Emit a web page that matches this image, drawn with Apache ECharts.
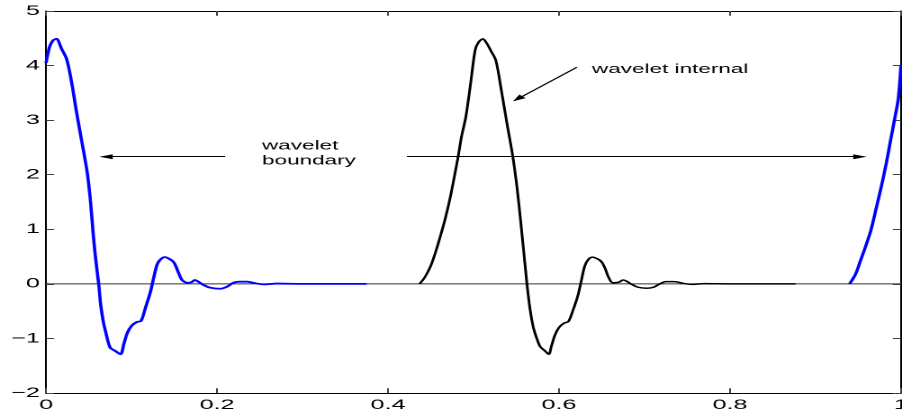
<!DOCTYPE html>
<html>
<head>
<meta charset="utf-8">
<script src="https://cdn.jsdelivr.net/npm/echarts@6/dist/echarts.min.js"></script>
<style>
html, body { margin: 0; padding: 0; background: #fff; overflow: hidden; width: 902px; height: 419px; }
/* 原图是横向拉伸过的 MATLAB 图：先按 501px 宽绘制，再整体横向放大 */
#chart { display: block; width: 501px; height: 419px; transform: scaleX(1.8004); transform-origin: 0 0; }
</style>
</head>
<body>
<div id="chart"></div>
<script>
// 刻度
const xTicks = [0, 0.2, 0.4, 0.6, 0.8, 1]
const yTicks = [-2, -1, 0, 1, 2, 3, 4, 5]

// 边界小波（蓝色），在 x = 1 处折回
const boundaryLeft = [
	[0, 4.05], [0.004, 4.34], [0.008, 4.46], [0.012, 4.49], [0.018, 4.31], [0.024, 4.12],
	[0.030, 3.68], [0.035, 3.2], [0.040, 2.76], [0.048, 2.05], [0.052, 1.5], [0.055, 0.93],
	[0.058, 0.45], [0.0615, 0], [0.064, -0.4], [0.067, -0.7], [0.070, -0.9], [0.075, -1.17],
	[0.081, -1.23], [0.087, -1.29], [0.091, -1.1], [0.095, -0.9], [0.100, -0.77], [0.106, -0.7],
	[0.111, -0.68], [0.116, -0.45], [0.122, -0.15], [0.126, 0.12], [0.130, 0.36], [0.134, 0.45],
	[0.139, 0.49], [0.146, 0.44], [0.150, 0.38], [0.155, 0.2], [0.159, 0.07], [0.165, 0.02],
	[0.170, 0.03], [0.174, 0.07], [0.178, 0.04], [0.184, -0.02], [0.192, -0.07], [0.204, -0.09],
	[0.212, -0.05], [0.219, 0.02], [0.226, 0.04], [0.235, 0.04], [0.245, 0.01], [0.255, -0.01],
	[0.27, 0.005], [0.3, 0], [0.375, 0]
]
const boundaryRight = [
	[0.940, 0], [0.947, 0.18], [0.953, 0.44], [0.959, 0.7], [0.965, 0.99], [0.971, 1.38],
	[0.977, 1.78], [0.983, 2.22], [0.988, 2.64], [0.993, 3.05], [0.997, 3.4], [1.0, 4.0]
]
// 内部小波（黑色）
const internal = [
	[0.437, 0], [0.443, 0.12], [0.450, 0.33], [0.456, 0.6], [0.461, 0.86], [0.467, 1.2],
	[0.473, 1.6], [0.478, 2.0], [0.482, 2.33], [0.486, 2.7], [0.491, 3.06], [0.496, 3.6],
	[0.502, 4.29], [0.506, 4.43], [0.511, 4.49], [0.515, 4.42], [0.520, 4.28], [0.526, 4.1],
	[0.532, 3.6], [0.539, 2.95], [0.546, 2.33], [0.551, 1.75], [0.555, 1.17], [0.559, 0.55],
	[0.5625, 0], [0.566, -0.45], [0.570, -0.8], [0.574, -1.0], [0.578, -1.15], [0.583, -1.22],
	[0.588, -1.29], [0.591, -1.15], [0.595, -0.95], [0.600, -0.8], [0.606, -0.72], [0.611, -0.69],
	[0.616, -0.5], [0.622, -0.22], [0.626, 0.05], [0.630, 0.32], [0.634, 0.44], [0.639, 0.49],
	[0.646, 0.45], [0.650, 0.4], [0.654, 0.28], [0.658, 0.12], [0.663, 0.02], [0.670, 0.03],
	[0.675, 0.07], [0.679, 0.05], [0.684, 0], [0.692, -0.06], [0.703, -0.08], [0.711, -0.06],
	[0.718, 0], [0.725, 0.04], [0.735, 0.04], [0.745, 0.01], [0.755, -0.01], [0.77, 0.005],
	[0.8, 0], [0.877, 0]
]
const zeroLine = [[0, 0], [1, 0]]

// 箭头 [起点, 终点]
const arrows = [
	[[0.2094, 2.33], [0.0702, 2.33]],
	[[0.4222, 2.33], [0.952, 2.33]],
	[[0.621, 3.97], [0.5517, 3.39]]
]
// 文字标注
const notes = [
	{ text: 'wavelet\nboundary', at: [0.2526, 2.39] },
	{ text: 'wavelet internal', at: [0.6386, 3.93] }
]

const font = '"Liberation Sans", Arial, sans-serif'
const machart = echarts.init(document.getElementById('chart'), null, { width: 501, height: 419, devicePixelRatio: 2 })

const xBase = {
	type: 'value',
	min: xTicks[0],
	max: xTicks[xTicks.length - 1],
	interval: xTicks[1] - xTicks[0],
	axisLine: { show: true, onZero: false, lineStyle: { color: '#000', width: 1 } },
	axisTick: { show: true, inside: true, length: 4.7, lineStyle: { color: '#444' } },
	splitLine: { show: false }
}
const yBase = {
	type: 'value',
	min: yTicks[0],
	max: yTicks[yTicks.length - 1],
	interval: yTicks[1] - yTicks[0],
	axisLine: { show: true, onZero: false, lineStyle: { color: '#000', width: 1 } },
	axisTick: { show: true, inside: true, length: 4.5, lineStyle: { color: '#444' } },
	splitLine: { show: false }
}

const option = {
	animation: false,
	backgroundColor: '#fff',
	// v6 默认会把标签收进容器，这里关掉，让右端的 "1" 被裁掉
	grid: { left: 25.6, right: 0.6, top: 11, bottom: 26, containLabel: false, outerBoundsMode: 'none' },
	xAxis: [
		Object.assign({}, xBase, {
			position: 'bottom',
			axisLabel: { show: true, margin: 5, color: '#000', fontSize: 14, fontFamily: font, showMaxLabel: true }
		}),
		Object.assign({}, xBase, { position: 'top', axisLabel: { show: false } })
	],
	yAxis: [
		Object.assign({}, yBase, {
			position: 'left',
			axisLabel: {
				show: true, margin: 3.4, color: '#000', fontSize: 14, fontFamily: font,
				formatter: v => String(v).replace('-', '\u2212')
			}
		}),
		Object.assign({}, yBase, { position: 'right', axisLabel: { show: false } })
	],
	series: [
		{
			name: 'zero',
			type: 'line',
			data: zeroLine,
			symbol: 'none',
			silent: true,
			lineStyle: { color: '#333', width: 1 },
			markLine: {
				silent: true,
				symbol: ['none', 'triangle'],
				label: { show: false },
				lineStyle: { color: '#000', width: 1, type: 'solid' },
				emphasis: { disabled: true },
				data: arrows.map(a => [
					{ coord: a[0], symbol: 'none' },
					{ coord: a[1], symbol: 'triangle', symbolSize: [5, 7.4] }
				])
			},
			markPoint: {
				silent: true,
				symbol: 'circle',
				symbolSize: 0,
				itemStyle: { color: 'transparent' },
				label: {
					show: true,
					position: 'right',
					distance: 0,
					color: '#000',
					fontSize: 12.5,
					lineHeight: 15,
					fontFamily: font,
					formatter: p => p.name
				},
				data: notes.map(n => ({ name: n.text, coord: n.at }))
			}
		},
		{
			name: 'boundary',
			type: 'line',
			data: boundaryLeft,
			symbol: 'none',
			smooth: 0.3,
			lineStyle: { color: '#0000ff', width: 1.8 }
		},
		{
			name: 'boundary2',
			type: 'line',
			data: boundaryRight,
			symbol: 'none',
			smooth: 0.3,
			lineStyle: { color: '#0000ff', width: 1.8 }
		},
		{
			name: 'internal',
			type: 'line',
			data: internal,
			symbol: 'none',
			smooth: 0.3,
			lineStyle: { color: '#000', width: 1.5 }
		}
	]
}
machart.setOption(option)
window.addEventListener('resize', function () {
	machart.resize()
})
</script>
</body>
</html>
